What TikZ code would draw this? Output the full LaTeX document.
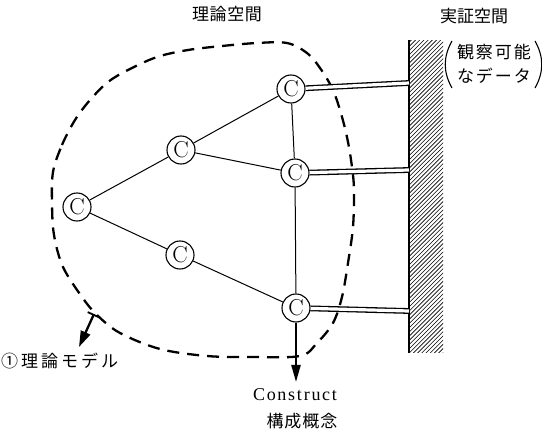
\documentclass[tikz,border=0pt]{standalone}
\usepackage{fontspec}
\newfontfamily\jp{Noto Sans CJK JP}
\newfontfamily\ser{Liberation Serif}
\usetikzlibrary{arrows.meta}
\newcommand\spreadbox[2]{\makebox[#1][s]{#2}}
\begin{document}
\begin{tikzpicture}[x=1pt,y=-1pt,
  cnode/.style={circle,draw,line width=1.1pt,minimum size=28pt,inner sep=0pt,font=\fontsize{23}{23}\selectfont},
  edge/.style={line width=1pt},
  dbl/.style={double,double distance=3.2pt,line width=1.3pt},
  blob/.style={line width=2.3pt,dash pattern=on 12pt off 8pt},
  jlabel/.style={inner sep=0pt,font=\jp\fontsize{17}{17}\selectfont},
  bigarrow/.style={line width=2.2pt,-{Triangle[length=17pt,width=9pt]}},
  paren/.style={line width=1.1pt}
]
\useasboundingbox (0,0) rectangle (542,433);

% theory region
\draw[blob] plot[smooth cycle,tension=0.55] coordinates {
 (53,172) (62,145) (75,120) (90,100) (108,82) (128,70) (157,57) (188,50)
 (222,46) (257,43) (287,43) (307,53) (320,68) (333,90) (342,117) (348,142)
 (352,167) (354,190) (353,227) (348,263) (342,297) (333,323) (317,343)
 (300,356) (250,357) (207,356) (160,349) (120,333) (97,315) (82,297)
 (63,267) (54,235) (52,203)};

% constructs
\node[cnode,fill=white] (c1) at (77,207) {C};
\node[cnode,fill=white] (c2) at (181,150) {C};
\node[cnode,fill=white] (c3) at (180,255) {C};
\node[cnode,fill=white] (c4) at (291,89) {C};
\node[cnode,fill=white] (c5) at (295,173) {C};
\node[cnode,fill=white] (c6) at (296,308) {C};

\draw[edge] (c1) -- (c2);
\draw[edge] (c1) -- (c3);
\draw[edge] (c2) -- (c4);
\draw[edge] (c2) -- (c5);
\draw[edge] (c3) -- (c6);
\draw[edge] (c4) -- (c5);
\draw[edge] (c5) -- (c6);

% wall
\coordinate (w1) at (409,83);
\coordinate (w2) at (409,170);
\coordinate (w3) at (409,311);
\begin{scope}
 \clip (409,41) rectangle (443,353);
 \foreach \i in {0,...,95} \draw[line width=0.6pt] (405,38+4.2*\i) -- ++(50,-50);
\end{scope}
\draw[line width=2.4pt] (409,40) -- (409,353);

\draw[dbl] (c4) -- (w1);
\draw[dbl] (c5) -- (w2);
\draw[dbl] (c6) -- (w3);

% arrows
\coordinate (m1) at (94,314);
\coordinate (m2) at (79,347);
\draw[line width=2.3pt,{Bar[width=13pt,line width=1.8pt]}-{Triangle[length=16pt,width=10pt]}] (m1) -- (m2);
\coordinate (k1) at (296,382);
\draw[bigarrow] (c6) -- (k1);

% labels
\node[jlabel] (t1) at (227,14) {\spreadbox{70pt}{理\hfill 論\hfill 空\hfill 間}};
\node[jlabel] (t2) at (474,16) {\spreadbox{68pt}{実\hfill 証\hfill 空\hfill 間}};
\node[jlabel] (t3) at (494,52) {\spreadbox{74pt}{観\hfill 察\hfill 可\hfill 能}};
\node[jlabel] (t4) at (494,76) {\spreadbox{74pt}{な\hfill デ\hfill ー\hfill タ}};
\draw[paren] (452,41) .. controls (443,57) and (443,72) .. (452,88);
\draw[paren] (535,41) .. controls (544,57) and (544,72) .. (535,88);
\node[jlabel,anchor=west] (t5) at (1,361) {\spreadbox{117pt}{①\hfill 理\hfill 論\hfill モ\hfill デ\hfill ル}};
\node[inner sep=0pt,font=\ser\fontsize{18}{18}\selectfont] (t6) at (295,395) {\spreadbox{84pt}{C\hfill o\hfill n\hfill s\hfill t\hfill r\hfill u\hfill c\hfill t}};
\node[jlabel] (t7) at (302,421) {\spreadbox{71pt}{構\hfill 成\hfill 概\hfill 念}};
\end{tikzpicture}
\end{document}
